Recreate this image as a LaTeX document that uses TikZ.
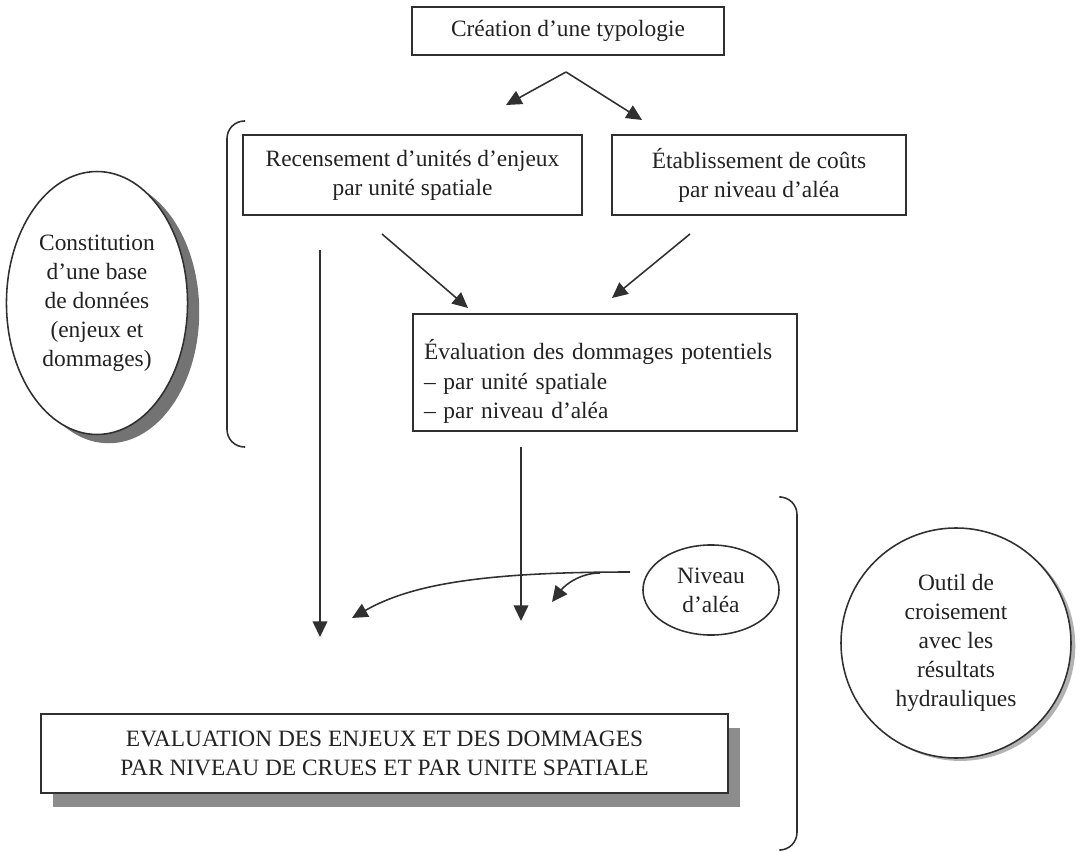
\documentclass[tikz,border=0pt]{standalone}
\usepackage{fontspec}
\setmainfont{Liberation Serif}
\usepackage{tikz}
\usetikzlibrary{positioning,shapes,shapes.geometric,arrows.meta,shadows}
\definecolor{trait}{HTML}{303030}
\definecolor{encre}{HTML}{222222}
\tikzset{
        >={Triangle[length=8pt,width=7.5pt]}, % filled triangle heads
        etape/.style={draw=trait, rectangle, align=center, inner sep=0pt}, % the boxes
        bulle/.style={draw=trait, ellipse, align=center, inner sep=0pt}, % the ellipses
        ombre/.style n args={3}{drop shadow={shadow xshift=#1, shadow yshift=#2, fill=#3, opacity=1}},
}

\begin{document}
\begin{tikzpicture}[x=0.513pt,y=-0.513pt,line width=0.8pt,draw=trait,text=encre,font=\fontsize{12}{14.9}\selectfont]
\useasboundingbox (0,0) rectangle (1081,852);

% boxes
\node (typo) [etape, minimum width=160pt, minimum height=24.6pt] at (568,31) {Création d’une typologie};
\node (recens) [etape, minimum width=173.9pt, minimum height=41pt] at (412.5,175) {Recensement d’unités d’enjeux\\par unité spatiale};
\node (couts) [etape, minimum width=150.8pt, minimum height=41pt] at (759,175) {Établissement de coûts\\par niveau d’aléa};
\node (dommages) [etape, minimum width=197pt, minimum height=60pt, align=left, text width=185.7pt] at (605,372.5) {\rule{0pt}{19.5pt}Évaluation des dommages potentiels\\– par unité spatiale\\– par niveau d’aléa};
\node (final) [etape, fill=white, minimum width=352.4pt, minimum height=40.5pt, ombre={6.2pt}{-7.2pt}{black!45}] at (384.5,753.5) {EVALUATION DES ENJEUX ET DES DOMMAGES\\PAR NIVEAU DE CRUES ET PAR UNITE SPATIALE};

% ellipses
\node (base) [bulle, fill=white, minimum width=92.9pt, minimum height=134.9pt, ombre={6pt}{-4.5pt}{black!55}] at (97,303) {Constitution\\d’une base\\de données\\(enjeux et\\dommages)};
\node (alea) [bulle, minimum width=69.8pt, minimum height=46.2pt] at (711,590) {Niveau\\d’aléa};
\node (outil) [draw=trait, circle, fill=white, align=center, minimum size=118pt, inner sep=0pt,
  ombre={2.2pt}{-1.5pt}{black!30}] at (956,643) {Outil de\\croisement\\avec les\\résultats\\hydrauliques};

% brackets
\draw[rounded corners=9pt] (245,121) -- (227,121) -- (227,447) -- (245,447);
\draw[rounded corners=9pt] (781,497) -- (797,497) -- (797,850) -- (781,850);

% arrows
\coordinate (fourche) at (566,72);
\coordinate (versA) at (506,105);
\coordinate (versB) at (642,120);
\coordinate (depA) at (382,234);
\coordinate (finA) at (468,308);
\coordinate (depB) at (690,234);
\coordinate (finB) at (612,298);
\coordinate (depC) at (320,250);
\coordinate (finC) at (320,637);
\coordinate (depD) at (521,447);
\coordinate (finD) at (521,621);
\coordinate (depE) at (630,572);
\coordinate (finE) at (352,618);
\coordinate (depF) at (600,573);
\coordinate (finF) at (552,602);

\foreach \a/\b in {fourche/versA,fourche/versB,depA/finA,depB/finB,depC/finC,depD/finD}
  \draw[->] (\a) -- (\b);

\draw[->] (depE) .. controls (480,572) and (410,585) .. (finE);
\draw[->] (depF) .. controls (580,573) and (565,585) .. (finF);
\end{tikzpicture}
\end{document}
